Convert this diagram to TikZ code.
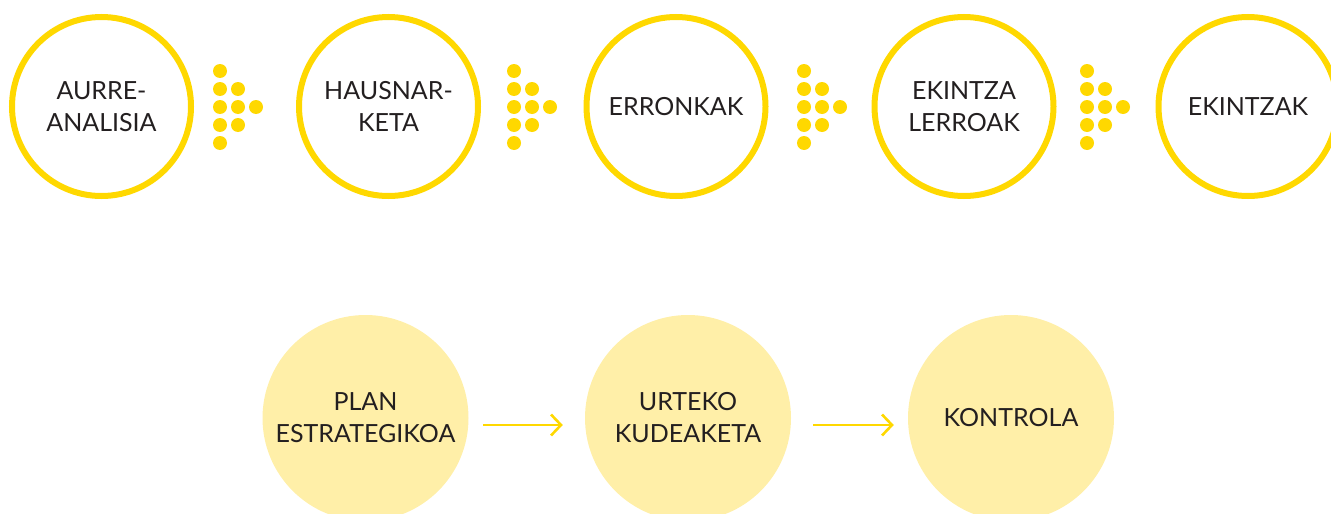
\documentclass[tikz,border=0pt]{standalone}
\usepackage{fontspec}
\setmainfont{Lato}
\usetikzlibrary{arrows.meta}
\definecolor{ylw}{HTML}{FFD800}
\definecolor{lyl}{HTML}{FFEFA8}
\definecolor{txt}{HTML}{231F20}
\begin{document}
\begin{tikzpicture}[x=1pt,y=-1pt,
  stepcircle/.style={circle,draw=ylw,line width=6pt,minimum size=179pt,inner sep=0pt,align=center,text=txt,font=\fontsize{25}{32}\selectfont},
  phase/.style={circle,fill=lyl,minimum size=206pt,inner sep=0pt,align=center,text=txt,font=\fontsize{25}{32}\selectfont},
  flow/.style={draw=ylw,line width=2.4pt,-{Straight Barb[length=10pt,width=21pt,line width=2.6pt]}},
  dotc/.style={fill=ylw}]
\useasboundingbox (0,0) rectangle (1331,514);
\clip (0,0) rectangle (1331,514);
% top row
\node[stepcircle] (s1) at (101.5,106.5) {AURRE-\\ANALISIA};
\node[stepcircle] (s2) at (388.5,106.5) {HAUSNAR-\\KETA};
\node[stepcircle] (s3) at (676,106.5) {ERRONKAK};
\node[stepcircle] (s4) at (964,106.5) {EKINTZA\\LERROAK};
\node[stepcircle] (s5) at (1248,106.5) {EKINTZAK};
% dotted arrows
\foreach \x in {220,514,804,1087}{
  \foreach \dy in {-36,-18,0,18,36}{\fill[dotc] ({\x},{107+\dy}) circle (7);}
  \foreach \dy in {-18,0,18}{\fill[dotc] ({\x+18},{107+\dy}) circle (7);}
  \fill[dotc] ({\x+36},107) circle (7);
}
% bottom row
\node[phase] (p1) at (365.5,418) {PLAN\\ESTRATEGIKOA};
\node[phase] (p2) at (688,418) {URTEKO\\KUDEAKETA};
\node[phase] (p3) at (1011,418) {KONTROLA};
\draw[flow,shorten <=14.5pt,shorten >=22pt] ([yshift=-7pt]p1.east) -- ([yshift=-7pt]p2.west);
\draw[flow,shorten <=22pt,shorten >=14pt] ([yshift=-7pt]p2.east) -- ([yshift=-7pt]p3.west);
\end{tikzpicture}
\end{document}
